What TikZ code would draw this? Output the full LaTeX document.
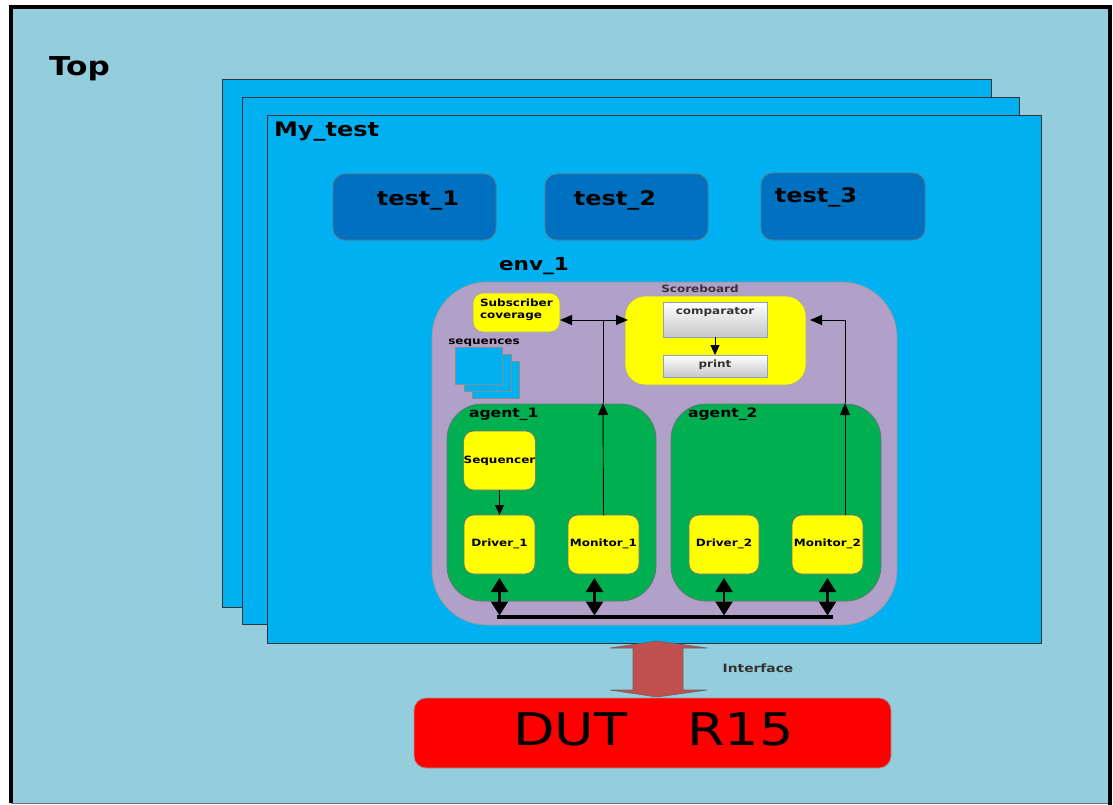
\documentclass[tikz,border=0pt]{standalone}
\usepackage{fontspec}
\setmainfont{DejaVu Sans}[FakeStretch=1.2]
\usetikzlibrary{arrows.meta}

\newcommand\setsz[1]{\fontsize{#1pt}{#1pt}\selectfont}

\definecolor{topbg}{RGB}{148,205,220}
\definecolor{layerblue}{RGB}{0,176,240}
\definecolor{testdark}{RGB}{0,112,192}
\definecolor{envpurple}{RGB}{177,160,199}
\definecolor{agentgreen}{RGB}{0,176,80}
\definecolor{boxyellow}{RGB}{255,255,0}
\definecolor{dutred}{RGB}{255,0,0}
\definecolor{ifred}{RGB}{192,80,77}
\definecolor{edgegray}{RGB}{105,112,125}
\definecolor{cmpedge}{RGB}{140,165,190}

\tikzset{
  blk/.style={rectangle, inner sep=0pt, outer sep=0pt, draw=edgegray, line width=0.7pt},
  layer/.style={blk, fill=layerblue, draw=black!80},
  testbox/.style={blk, fill=testdark, rounded corners=12pt, minimum width=163pt, minimum height=66pt},
  ylw/.style={blk, fill=boxyellow, rounded corners=10pt, minimum width=71pt, minimum height=59pt,
              font=\setsz{10}\bfseries},
  agentbox/.style={blk, fill=agentgreen, rounded corners=35pt, minimum height=197pt},
  cmpbox/.style={blk, draw=cmpedge, top color=white, bottom color=black!22, minimum width=104pt},
  seqsq/.style={blk, fill=layerblue, draw=black!45, minimum width=47pt, minimum height=37pt},
  lbl/.style={inner sep=0pt, outer sep=0pt, font=\bfseries, anchor=base},
  sig/.style={line width=0.9pt, -{Triangle[length=12pt,width=10pt]}},
  busarrow/.style={line width=2.4pt, shorten <=4pt, shorten >=1.5pt,
                   {Triangle[length=14pt,width=17pt]}-{Triangle[length=14pt,width=17pt]}},
}

\begin{document}
\begin{tikzpicture}[x=1pt, y=-1pt]
\useasboundingbox (0,0) rectangle (1113,805);
\fill[white] (0,0) rectangle (1113,805);

% top-level frame
\fill[topbg, draw=black!55, line width=0.8pt] (11,8) rectangle (1110,803);
\draw[black, line width=4.5pt] (11,803) -- (11,7) -- (1110,7) -- (1110,805);
\node[lbl, anchor=base west, font=\setsz{26}\bfseries] (toplbl) at (49,76) {Top};

% stacked test layers
\node[layer, minimum width=769pt, minimum height=528pt] (layer1) at (606.5,343) {};
\node[layer, minimum width=777pt, minimum height=527pt] (layer2) at (630.5,360.5) {};
\node[layer, minimum width=774pt, minimum height=528pt] (mytest) at (654,379) {};
\node[lbl, anchor=base west, font=\setsz{20}\bfseries] (mytestlbl) at (274,137) {My\_test};

% tests
\node[testbox] (test1) at (414.5,207) {};
\node[testbox] (test2) at (626.5,207) {};
\node[testbox, minimum width=164pt, minimum height=67pt] (test3) at (843,206.5) {};
\node[lbl, font=\setsz{20}\bfseries] (t1lbl) at (418,205) {test\_1};
\node[lbl, font=\setsz{20}\bfseries] (t2lbl) at (615,205) {test\_2};
\node[lbl, font=\setsz{20}\bfseries] (t3lbl) at (816,202) {test\_3};

% environment
\node[lbl, font=\setsz{18}\bfseries] (envlbl) at (534,270) {env\_1};
\node[blk, fill=envpurple, draw=black!40, rounded corners=55pt,
      minimum width=465pt, minimum height=343pt] (env) at (664.5,453.5) {};

% scoreboard
\node[lbl, font=\setsz{10}\bfseries, text=black!80] (sblbl) at (700,292) {Scoreboard};
\node[blk, fill=boxyellow, draw=black!35, rounded corners=20pt,
      minimum width=181pt, minimum height=89pt] (scoreboard) at (715.5,340.5) {};
\node[cmpbox, minimum height=35pt] (comparator) at (715,319.5) {};
\node[lbl, font=\setsz{10}\bfseries, text=black!80] (cmplbl) at (715,314) {comparator};
\node[cmpbox, minimum height=22pt] (print) at (715,366) {};
\node[lbl, font=\setsz{10}\bfseries, text=black!80] (printlbl) at (715,367) {print};
\draw[line width=0.9pt, -{Triangle[length=10pt,width=9pt]}] (comparator) -- (print);

% subscriber
\node[ylw, draw=black!35, minimum width=87pt, minimum height=39pt] (subscriber) at (516.5,312.5) {};
\node[lbl, font=\setsz{10}\bfseries, align=left, anchor=base west] (sublbl) at (480,318)
  {Subscriber\\[1.5pt]coverage};

% sequences
\node[lbl, font=\setsz{10}\bfseries] (seqlbl) at (484,344) {sequences};
\node[seqsq] (seq3) at (496,380) {};
\node[seqsq] (seq2) at (487.5,373) {};
\node[seqsq] (seq1) at (479,366) {};

% agents
\node[agentbox, minimum width=209pt] (agent1) at (551.5,502.5) {};
\node[agentbox, minimum width=210pt] (agent2) at (776,502.5) {};
\node[lbl, anchor=base west, font=\setsz{13}\bfseries] (a1lbl) at (469,417) {agent\_1};
\node[lbl, anchor=base west, font=\setsz{13}\bfseries] (a2lbl) at (688,417) {agent\_2};

\node[ylw] (sequencer) at (499.5,460.5) {Sequencer};
\node[ylw] (driver1) at (499.5,544.5) {\raisebox{3pt}{Driver\_1}};
\node[ylw] (monitor1) at (603.5,544.5) {\raisebox{3pt}{Monitor\_1}};
\node[ylw, minimum width=70pt] (driver2) at (724,544.5) {\raisebox{3pt}{Driver\_2}};
\node[ylw] (monitor2) at (827.5,544.5) {\raisebox{3pt}{Monitor\_2}};

\draw[line width=0.9pt, -{Triangle[length=10pt,width=9pt]}] (sequencer) -- (driver1);

% analysis paths
\coordinate (m1top) at (603,403);
\coordinate (j1) at (603,320);
\coordinate (m2top) at (845,403);
\coordinate (j2) at (845,320);
\draw[sig] (monitor1.north) -- (m1top);
\draw[line width=0.9pt] (m1top) -- (j1);
\draw[sig] (j1) -- (j1 -| subscriber.east);
\draw[sig] (j1) -- ([xshift=3pt]j1 -| scoreboard.west);
\draw[sig] ([xshift=17.5pt]monitor2.north) -- (m2top);
\draw[line width=0.9pt] (m2top) -- (j2);
\draw[sig] (j2) -- ([xshift=4pt]j2 -| scoreboard.east);

% interface bus
\coordinate (busL) at (497,617);
\coordinate (busR) at (833,617);
\draw[line width=4pt] (busL) -- (busR);
\draw[busarrow] (driver1.south) -- (driver1.south |- busL);
\draw[busarrow] ([xshift=-9pt]monitor1.south) -- ([xshift=-9pt]monitor1.south |- busL);
\draw[busarrow] (driver2.south) -- (driver2.south |- busL);
\draw[busarrow] (monitor2.south) -- (monitor2.south |- busL);

% DUT and its interface
\node[blk, fill=dutred, draw=black!40, rounded corners=12pt, minimum width=477pt, minimum height=70pt]
  (dut) at (652.5,733) {};
\node[lbl, font=\setsz{45}, anchor=base] (dutlbl) at (653.5,745) {DUT\hspace{60pt}R15};
\draw[fill=ifred, draw=black!60, line width=0.6pt]
  (657,641) -- (707,648) -- (683,648) -- (683,690) -- (707,690) -- (657,697)
  -- (610,690) -- (633,690) -- (633,648) -- (610,648) -- cycle;
\node[lbl, font=\setsz{11.5}\bfseries, text=black!80] (iflbl) at (758,672) {Interface};
\end{tikzpicture}
\end{document}
